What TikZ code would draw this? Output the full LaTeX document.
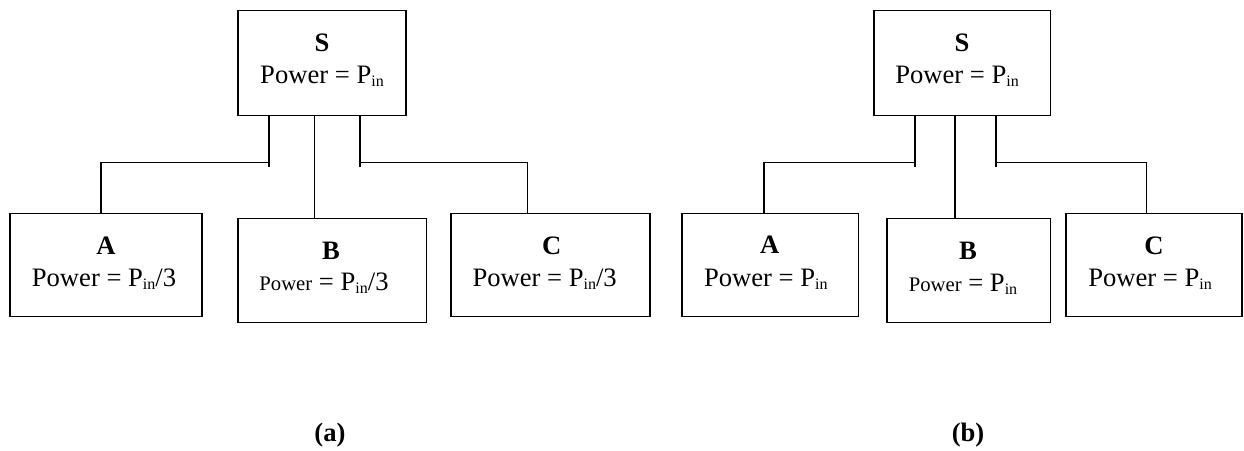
\documentclass[tikz,border=0pt]{standalone}
\usepackage{fontspec}
\setmainfont{Liberation Serif}
\newcommand\txtsz{\fontsize{26.6}{30}\selectfont}
\newcommand\smsz{\fontsize{20.7}{24}\selectfont}
\newcommand\subin{\raisebox{-3pt}{\fontsize{16}{18}\selectfont in}}
\tikzset{
  box/.style={draw, line width=1.5pt, inner sep=0pt},
  wire/.style={line width=1.5pt},
  lbl/.style={anchor=base, inner sep=0pt, font=\txtsz},
  ttl/.style={anchor=base, inner sep=0pt, font=\txtsz\bfseries},
}
\begin{document}
\begin{tikzpicture}[x=1pt,y=-1pt]
\useasboundingbox (0,0) rectangle (1244,450);
% ---------- panel (a) ----------
\node[box, minimum width=168pt, minimum height=104.6pt] (S1) at (322,63) {};
\node[box, minimum width=192pt, minimum height=103.3pt] (A1) at (106,265) {};
\node[box, minimum width=188.5pt, minimum height=104pt] (B1) at (332.25,270.7) {};
\node[box, minimum width=199pt, minimum height=103.3pt] (C1) at (550.5,265) {};
\node[ttl] (tS1) at (322,51.7) {S};
\node[lbl] (pS1) at (322,83.3) {Power = P\subin};
\node[ttl] (tA1) at (106,254) {A};
\node[lbl] (pA1) at (104,286) {Power = P\subin/3};
\node[ttl] (tB1) at (331,259) {B};
\node[lbl] (pB1) at (324,290.7) {{\smsz Power} = P\subin/3};
\node[ttl] (tC1) at (551.6,254) {C};
\node[lbl] (pC1) at (544.6,286) {Power = P\subin/3};
\coordinate (sl1) at (269,166.7);
\coordinate (hl1) at (269,162.7);
\coordinate (sr1) at (360,166.7);
\coordinate (hr1) at (360,162.7);
\coordinate (m1) at (314.6,0);
\draw[wire] (sl1 |- S1.south) -- (sl1);
\draw[wire] (hl1) -| ([xshift=-5pt]A1.north);
\draw[wire] (m1 |- S1.south) -- (m1 |- B1.north);
\draw[wire] (sr1 |- S1.south) -- (sr1);
\draw[wire] (hr1) -| ([xshift=-22.9pt]C1.north);
\node[ttl] (la) at (330,441) {(a)};
% ---------- panel (b) ----------
\node[box, minimum width=176.5pt, minimum height=104.6pt] (S2) at (962.25,63) {};
\node[box, minimum width=176.5pt, minimum height=103.3pt] (A2) at (770.25,265) {};
\node[box, minimum width=163.5pt, minimum height=104pt] (B2) at (968.75,270.7) {};
\node[box, minimum width=176pt, minimum height=103.3pt] (C2) at (1154,265) {};
\node[ttl] (tS2) at (962,51.7) {S};
\node[lbl] (pS2) at (957,83.3) {Power = P\subin};
\node[ttl] (tA2) at (769.8,253) {A};
\node[lbl] (pA2) at (765.8,286) {Power = P\subin};
\node[ttl] (tB2) at (968,259) {B};
\node[lbl] (pB2) at (963,291) {{\smsz Power} = P\subin};
\node[ttl] (tC2) at (1154,254) {C};
\node[lbl] (pC2) at (1150,286) {Power = P\subin};
\coordinate (sl2) at (915,166.7);
\coordinate (hl2) at (915,162.7);
\coordinate (sr2) at (996,166.7);
\coordinate (hr2) at (996,162.7);
\coordinate (m2) at (955,0);
\draw[wire] (sl2 |- S2.south) -- (sl2);
\draw[wire] (hl2) -| ([xshift=-6.25pt]A2.north);
\draw[wire] (m2 |- S2.south) -- (m2 |- B2.north);
\draw[wire] (sr2 |- S2.south) -- (sr2);
\draw[wire] (hr2) -| ([xshift=-7.4pt]C2.north);
\node[ttl] (lb) at (968,441) {(b)};
\end{tikzpicture}
\end{document}
